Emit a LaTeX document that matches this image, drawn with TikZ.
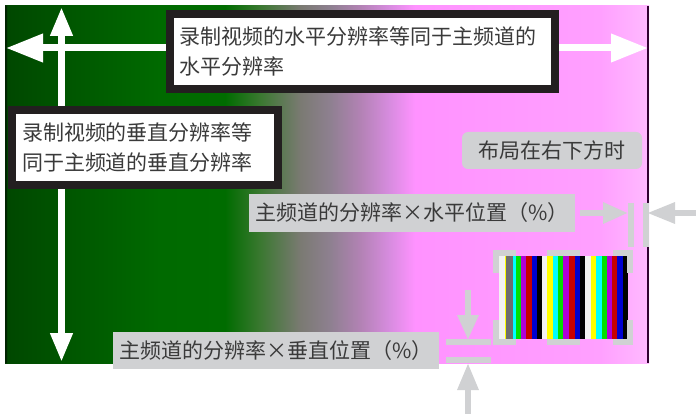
\documentclass[tikz,border=0pt]{standalone}
\usepackage{fontspec}
\newfontfamily\cjk{Noto Sans CJK SC}
\usetikzlibrary{arrows.meta}

\definecolor{bgA}{HTML}{003400}
\definecolor{bgB}{HTML}{004800}
\definecolor{bgC}{HTML}{005400}
\definecolor{bgD}{HTML}{006A00}
\definecolor{bgE}{HTML}{006C00}
\definecolor{bgF}{HTML}{3A7830}
\definecolor{bgG}{HTML}{7A7A72}
\definecolor{bgH}{HTML}{8E8090}
\definecolor{bgI}{HTML}{B282B4}
\definecolor{bgJ}{HTML}{D88CE0}
\definecolor{bgK}{HTML}{FF92FF}
\definecolor{bgL}{HTML}{FFA0FF}
\definecolor{bgM}{HTML}{FFB8FF}
\definecolor{edgeL}{HTML}{002400}
\definecolor{edgeR}{HTML}{300030}
\definecolor{boxblack}{HTML}{231F20}
\definecolor{txtgray}{HTML}{3A3A3A}
\definecolor{lblgray}{HTML}{D0D1D3}
\definecolor{barW}{HTML}{F2F2F2}
\definecolor{barY}{HTML}{FFFF00}
\definecolor{barGr}{HTML}{6E6E6E}
\definecolor{barC}{HTML}{00FFFF}
\definecolor{barG}{HTML}{00E000}
\definecolor{barM}{HTML}{B000D8}
\definecolor{barR}{HTML}{C80000}
\definecolor{barB}{HTML}{0000D0}
\definecolor{barK}{HTML}{000000}

% screen background, green fading into pink
\pgfdeclarehorizontalshading{screenbg}{100bp}{color(0bp)=(bgA); color(25bp)=(bgA); color(25.23bp)=(bgB); color(29.27bp)=(bgC); color(37.03bp)=(bgD); color(42.08bp)=(bgE); color(44.8bp)=(bgF); color(47.9bp)=(bgG); color(50.23bp)=(bgH); color(52.56bp)=(bgI); color(54.89bp)=(bgJ); color(56.83bp)=(bgK); color(71.2bp)=(bgL); color(74.69bp)=(bgM); color(75bp)=(bgM); color(100bp)=(bgM)}

\tikzset{
	resbox/.style={draw=boxblack, line width=8pt, fill=white, align=left, inner ysep=0pt, text=txtgray, font=\cjk\fontsize{21}{30}\selectfont},
	graylbl/.style={fill=lblgray, inner sep=0pt, minimum height=37pt, text=txtgray, font=\cjk\fontsize{21}{24}\selectfont},
	whitearr/.style={draw=white, line width=7pt},
	grayarr/.style={draw=lblgray, line width=6pt},
}

\begin{document}
\begin{tikzpicture}[x=1pt, y=-1pt]
	\useasboundingbox (0,0) rectangle (696,414);

	% background
	\shade[shading=screenbg] (5,6) rectangle (649,363);
	\fill[edgeL] (5,6) rectangle (7,363);
	\fill[edgeR] (647,6) rectangle (649,363);

	% white resolution arrows
	\coordinate (hleft) at (6,48);
	\coordinate (hright) at (648,48);
	\coordinate (vtop) at (61.5,7);
	\coordinate (vbot) at (61.5,362);
	\draw[whitearr, {Triangle[length=37pt,width=27pt]}-{Triangle[length=37pt,width=27pt]}] (hleft) -- (hright);
	\draw[whitearr, {Triangle[length=29pt,width=21pt]}-{Triangle[length=29pt,width=21pt]}] (vtop) -- (vbot);

	% boxes
	\node[resbox, text width=367pt, inner xsep=9pt, minimum height=75pt] (boxHres) at (362.5,51.5)
		{录制视频的水平分辨率等同于主频道的\\水平分辨率};
	\node[resbox, text width=246pt, inner xsep=10pt, minimum height=75pt] (boxVres) at (145,147.5)
		{录制视频的垂直分辨率等\\同于主频道的垂直分辨率};

	% labels
	\node[graylbl, rounded corners=6pt, minimum width=180pt] (lblLayout) at (552,150.5) {布局在右下方时};
	\node[graylbl, minimum width=326pt, minimum height=38pt] (lblHpos) at (412,213) {主频道的分辨率×水平位置（\%）};
	\node[graylbl, minimum width=326pt] (lblVpos) at (276,350.5) {主频道的分辨率×垂直位置（\%）};

	% sub picture (colour bars)
	\foreach \xa/\xb/\c in {499.3/505/barW, 505/506.3/barY, 506.3/513.3/barGr, 513.3/516/barC, 516/521/barG, 521/526/barM, 526/531.7/barR, 531.7/536.7/barB, 536.7/541.7/barK,
		541.7/547.3/barW, 547.3/553.3/barY, 553.3/558.3/barC, 558.3/563.3/barG, 563.3/569.3/barM, 569.3/575/barR, 575/580/barB, 580/585/barK,
		585/590.7/barW, 590.7/596/barY, 596/601.7/barC, 601.7/606.7/barG, 606.7/611.7/barM, 611.7/617.3/barR, 617.3/622.7/barB, 622.7/628.3/barK}
		\fill[\c] (\xa,256) rectangle (\xb,339);

	% corner marks round the sub picture
	\draw[grayarr] (496,273) -- (496,253) -- (516,253);
	\draw[grayarr] (547,253) -- (580,253);
	\draw[grayarr] (613,253) -- (630,253) -- (630,273);
	\draw[grayarr] (496,320) -- (496,342) -- (516,342);
	\draw[grayarr] (547,342) -- (580,342);
	\draw[grayarr] (613,342) -- (630,342) -- (630,320);

	% horizontal position marks
	\coordinate (hpA) at (580,213);
	\coordinate (hpT) at (628,213);
	\coordinate (hpB) at (696,213);
	\coordinate (hpU) at (647,213);
	\draw[grayarr] (630.5,203) -- (630.5,247);
	\draw[grayarr] (645.5,203) -- (645.5,247);
	\draw[grayarr, -{Triangle[length=25pt,width=20pt]}] (hpA) -- (hpT);
	\draw[grayarr, -{Triangle[length=28pt,width=20pt]}] (hpB) -- (hpU);

	% vertical position marks
	\coordinate (vpA) at (468,290);
	\coordinate (vpT) at (468,340);
	\coordinate (vpB) at (468,414);
	\coordinate (vpU) at (468,363);
	\draw[grayarr] (446,342) -- (491,342);
	\draw[grayarr] (446,360) -- (491,360);
	\draw[grayarr, -{Triangle[length=25pt,width=20pt]}] (vpA) -- (vpT);
	\draw[grayarr, -{Triangle[length=27pt,width=20pt]}] (vpB) -- (vpU);
\end{tikzpicture}
\end{document}
